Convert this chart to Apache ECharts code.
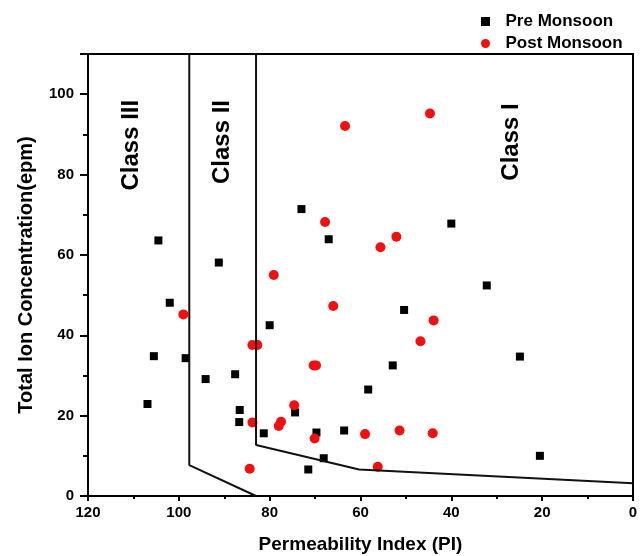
<!DOCTYPE html>
<html>
<head>
<meta charset="utf-8">
<script src="https://cdn.jsdelivr.net/npm/echarts@6/dist/echarts.min.js"></script>
<style>
  html, body { margin: 0; padding: 0; background: #fff; }
  #chart { width: 640px; height: 556px; }
</style>
</head>
<body>
<div id="chart"></div>
<script>
// Permeability Index (x) vs Total Ion Concentration (y)
var preMonsoon = [
  [73.0, 71.4], [67.0, 63.9], [104.5, 63.6], [40.0, 67.8], [32.2, 52.4],
  [91.2, 58.1], [102.0, 48.1], [80.0, 42.5], [105.5, 34.8], [98.5, 34.3],
  [94.1, 29.1], [87.6, 30.3], [106.9, 22.9], [86.6, 21.4], [86.7, 18.4],
  [81.3, 15.6], [74.4, 20.8], [69.7, 15.8], [63.6, 16.3], [68.1, 9.4],
  [71.5, 6.6], [50.4, 46.3], [52.9, 32.5], [58.3, 26.5], [24.9, 34.7],
  [20.5, 10.0]
];
var postMonsoon = [
  [63.4, 92.1], [44.7, 95.2], [67.8, 68.2], [52.1, 64.5], [55.6, 61.9],
  [79.1, 55.0], [66.0, 47.3], [99.0, 45.2], [83.8, 37.6], [82.7, 37.6],
  [70.3, 32.5], [69.8, 32.5], [74.6, 22.6], [77.5, 18.5], [78.0, 17.4],
  [83.8, 18.3], [70.1, 14.3], [84.4, 6.8], [43.9, 43.7], [46.8, 38.5],
  [59.0, 15.4], [51.4, 16.3], [44.1, 15.6], [56.2, 7.3]
];
// class boundary lines
var boundary1 = [[97.7, 110], [97.7, 7.7], [83, 0]];
var boundary2 = [[83, 110], [83, 12.7], [60.3, 6.6], [0, 3.2]];
// class labels
var classNames = ['Class III', 'Class II', 'Class I'];
var classPos = [[110.4, 87.3], [90.4, 88.1], [26.8, 88.1]];

var font = "'Liberation Sans', Arial, sans-serif";
var square = 'path://M0 0H10V10H0Z';
var myChart = echarts.init(document.getElementById('chart'));

var option = {
  animation: false,
  textStyle: { fontFamily: font },
  grid: {
    left: 88, right: 7, top: 54, bottom: 60,
    containLabel: false, outerBoundsMode: 'none',
    show: true, borderColor: '#000', borderWidth: 2
  },
  legend: {
    data: ['Pre Monsoon', 'Post Monsoon'],
    orient: 'vertical',
    left: 476, top: 8,
    itemWidth: 30, itemHeight: 9, itemGap: 5,
    symbolKeepAspect: true,
    textStyle: { fontFamily: font, fontSize: 17, fontWeight: 'bold', color: '#000', lineHeight: 17 }
  },
  xAxis: {
    type: 'value',
    inverse: true,
    min: 0, max: 120, interval: 20,
    name: 'Permeability Index (PI)',
    nameLocation: 'middle',
    nameGap: 39,
    nameTextStyle: { fontFamily: font, fontSize: 19, fontWeight: 'bold', color: '#000' },
    axisLine: { onZero: false, lineStyle: { color: '#000', width: 2 } },
    axisTick: { inside: false, length: 5, lineStyle: { color: '#000', width: 2 } },
    minorTick: { show: true, splitNumber: 2, length: 3, lineStyle: { color: '#000', width: 2 } },
    splitLine: { show: false },
    axisLabel: { fontFamily: font, fontSize: 15, fontWeight: 'bold', color: '#000', margin: 9 }
  },
  yAxis: {
    type: 'value',
    min: 0, max: 110, interval: 20,
    name: 'Total Ion Concentration(epm)',
    nameLocation: 'middle',
    nameGap: 52,
    nameTextStyle: { fontFamily: font, fontSize: 20, fontWeight: 'bold', color: '#000' },
    axisLine: { onZero: false, lineStyle: { color: '#000', width: 2 } },
    axisTick: { inside: false, length: 8, lineStyle: { color: '#000', width: 2 } },
    minorTick: { show: true, splitNumber: 2, length: 5, lineStyle: { color: '#000', width: 2 } },
    splitLine: { show: false },
    axisLabel: {
      fontFamily: font, fontSize: 15, fontWeight: 'bold', color: '#000', margin: 14,
      formatter: function (v) { return v > 100 ? '' : v; }
    }
  },
  series: [
    {
      type: 'line', data: boundary1, showSymbol: false, silent: true,
      lineStyle: { color: '#111', width: 2 }
    },
    {
      type: 'line', data: boundary2, showSymbol: false, silent: true,
      lineStyle: { color: '#111', width: 2 }
    },
    {
      name: 'Pre Monsoon', type: 'scatter', data: preMonsoon,
      symbol: square, symbolSize: 8, symbolKeepAspect: true,
      itemStyle: { color: '#000', opacity: 1 }
    },
    {
      name: 'Post Monsoon', type: 'scatter', data: postMonsoon,
      symbol: 'circle', symbolSize: 10,
      itemStyle: { color: '#f01010', opacity: 1 }
    },
    {
      type: 'scatter', silent: true, symbolSize: 0,
      itemStyle: { opacity: 1 },
      data: classNames.map(function (n, i) { return { name: n, value: classPos[i] }; }),
      label: {
        show: true, position: 'inside', rotate: 90, formatter: '{b}',
        fontFamily: font, fontSize: 24, fontWeight: 'bold', color: '#000',
        textBorderWidth: 0
      }
    }
  ]
};
myChart.setOption(option);
</script>
</body>
</html>
